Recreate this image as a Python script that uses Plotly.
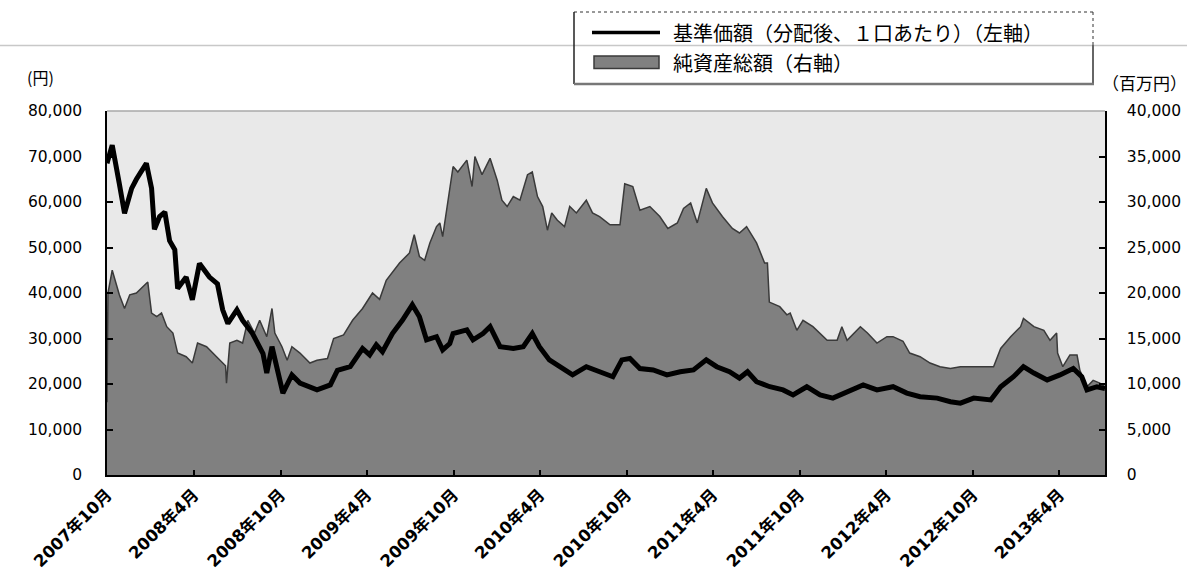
import plotly.graph_objects as go

# ---------------- data ----------------
nav_dates = [
    "2007-10-01", "2007-10-12", "2007-10-27", "2007-11-07", "2007-11-22", "2007-12-02",
    "2007-12-23", "2008-01-03", "2008-01-09", "2008-01-20", "2008-01-31", "2008-02-10",
    "2008-02-21", "2008-02-27", "2008-03-16", "2008-03-29", "2008-04-13", "2008-05-04",
    "2008-05-21", "2008-06-01", "2008-06-12", "2008-07-01", "2008-07-13", "2008-08-03",
    "2008-08-25", "2008-09-02", "2008-09-13", "2008-09-23", "2008-10-06", "2008-10-25",
    "2008-11-11", "2008-12-17", "2009-01-14", "2009-01-29", "2009-02-25", "2009-03-23",
    "2009-04-07", "2009-04-21", "2009-05-04", "2009-05-25", "2009-06-15", "2009-07-06",
    "2009-07-21", "2009-08-05", "2009-08-26", "2009-09-08", "2009-09-23", "2009-09-30",
    "2009-10-29", "2009-11-11", "2009-12-02", "2009-12-17", "2010-01-07", "2010-02-04",
    "2010-02-25", "2010-03-16", "2010-03-31", "2010-04-21", "2010-05-12", "2010-06-09",
    "2010-07-08", "2010-08-05", "2010-09-02", "2010-09-21", "2010-10-08", "2010-10-29",
    "2010-11-26", "2010-12-25", "2011-01-22", "2011-02-19", "2011-03-18", "2011-04-09",
    "2011-05-06", "2011-05-27", "2011-06-13", "2011-07-02", "2011-07-30", "2011-08-27",
    "2011-09-07", "2011-09-17", "2011-10-16", "2011-11-13", "2011-12-10", "2012-01-09",
    "2012-02-12", "2012-03-12", "2012-04-15", "2012-05-14", "2012-06-11", "2012-07-17",
    "2012-08-14", "2012-09-04", "2012-10-02", "2012-11-07", "2012-11-28", "2012-12-25",
    "2013-01-15", "2013-02-06", "2013-03-06", "2013-04-02", "2013-04-30", "2013-05-18",
    "2013-05-29", "2013-06-19", "2013-07-06",
]
nav_values = [
    68500, 72500, 64000, 57500, 63000, 65000,
    68500, 63000, 54000, 56800, 57800, 51500,
    49500, 41000, 43500, 38500, 46500, 43500,
    42000, 36300, 33300, 36300, 34000, 31100,
    26700, 22400, 28200, 23800, 18000, 22000,
    20200, 18700, 19800, 23000, 23800, 27800,
    26400, 28600, 27100, 31100, 34000, 37400,
    34800, 29700, 30400, 27500, 28900, 31100,
    31900, 29700, 31100, 32600, 28200, 27800,
    28200, 31100, 28200, 25300, 23800, 22000,
    23800, 22700, 21600, 25300, 25600, 23400,
    23100, 22000, 22700, 23100, 25300, 23800,
    22700, 21300, 22700, 20500, 19400, 18700,
    18000, 17600, 19400, 17600, 16900, 18300,
    19800, 18700, 19400, 18000, 17200, 16900,
    16100, 15800, 16900, 16500, 19400, 21600,
    23800, 22400, 20900, 22000, 23400, 21600,
    18700, 19400, 19000,
]

asset_dates = [
    "2007-10-01", "2007-10-03", "2007-10-12", "2007-10-27", "2007-11-07", "2007-11-18",
    "2007-12-02", "2007-12-15", "2007-12-26", "2008-01-03", "2008-01-14", "2008-01-24",
    "2008-02-04", "2008-02-17", "2008-02-27", "2008-03-16", "2008-03-29", "2008-04-09",
    "2008-04-28", "2008-05-19", "2008-06-07", "2008-06-09", "2008-06-16", "2008-07-01",
    "2008-07-13", "2008-07-24", "2008-08-07", "2008-08-18", "2008-09-02", "2008-09-13",
    "2008-09-19", "2008-10-04", "2008-10-15", "2008-10-25", "2008-11-11", "2008-12-02",
    "2008-12-17", "2009-01-08", "2009-01-21", "2009-02-11", "2009-03-02", "2009-03-23",
    "2009-04-13", "2009-04-28", "2009-05-12", "2009-06-09", "2009-06-30", "2009-07-10",
    "2009-07-21", "2009-08-01", "2009-08-12", "2009-08-26", "2009-09-02", "2009-09-08",
    "2009-09-19", "2009-09-30", "2009-10-10", "2009-10-29", "2009-11-09", "2009-11-15",
    "2009-11-30", "2009-12-17", "2010-01-01", "2010-01-11", "2010-01-22", "2010-02-04",
    "2010-02-18", "2010-03-06", "2010-03-16", "2010-03-27", "2010-04-07", "2010-04-17",
    "2010-04-26", "2010-05-08", "2010-05-23", "2010-06-03", "2010-06-17", "2010-07-08",
    "2010-07-21", "2010-08-05", "2010-08-27", "2010-09-17", "2010-09-27", "2010-10-14",
    "2010-10-29", "2010-11-19", "2010-12-10", "2010-12-27", "2011-01-16", "2011-01-29",
    "2011-02-13", "2011-02-27", "2011-03-18", "2011-03-31", "2011-04-21", "2011-05-12",
    "2011-05-27", "2011-06-11", "2011-07-02", "2011-07-19", "2011-07-25", "2011-07-29",
    "2011-08-20", "2011-09-04", "2011-09-11", "2011-09-25", "2011-10-08", "2011-10-29",
    "2011-11-28", "2011-12-19", "2011-12-29", "2012-01-09", "2012-02-06", "2012-02-21",
    "2012-03-12", "2012-04-02", "2012-04-15", "2012-05-06", "2012-05-20", "2012-06-11",
    "2012-07-02", "2012-07-23", "2012-08-14", "2012-09-04", "2012-10-16", "2012-11-13",
    "2012-11-28", "2012-12-19", "2013-01-09", "2013-01-15", "2013-02-06", "2013-02-27",
    "2013-03-12", "2013-03-26", "2013-03-28", "2013-04-08", "2013-04-23", "2013-05-08",
    "2013-05-14", "2013-05-29", "2013-06-11", "2013-06-25", "2013-07-06",
]
asset_values = [
    8000, 20000, 22500, 19800, 18300, 19800,
    20000, 20700, 21200, 17800, 17400, 17800,
    16300, 15600, 13400, 13000, 12300, 14500,
    14100, 13000, 12000, 10100, 14500, 14800,
    14500, 17000, 15600, 17000, 15200, 18300,
    15600, 14100, 12600, 14100, 13400, 12300,
    12600, 12800, 15000, 15400, 17000, 18300,
    20000, 19300, 21400, 23300, 24400, 26400,
    24000, 23600, 25500, 27300, 27700, 26200,
    30200, 33900, 33300, 34600, 31700, 35000,
    33000, 34800, 32400, 30200, 29500, 30600,
    30200, 33000, 33300, 30600, 29500, 26900,
    28800, 28000, 27300, 29500, 28800, 30200,
    28800, 28400, 27500, 27500, 32000, 31700,
    29100, 29500, 28400, 27100, 27700, 29300,
    29900, 27700, 31500, 29900, 28400, 27100,
    26600, 27300, 25500, 23300, 23300, 19000,
    18500, 17600, 17800, 15900, 17000, 16300,
    14800, 14800, 16300, 14800, 16300, 15600,
    14500, 15200, 15200, 14700, 13400, 13000,
    12300, 11900, 11700, 11900, 11900, 11900,
    13900, 15200, 16300, 17200, 16300, 15900,
    14800, 15600, 13400, 11900, 13200, 13200,
    11500, 9700, 10400, 10100, 9700,
]

tick_dates = ["2007-10-01", "2008-04-01", "2008-10-01", "2009-04-01", "2009-10-01",
              "2010-04-01", "2010-10-01", "2011-04-01", "2011-10-01", "2012-04-01",
              "2012-10-01", "2013-04-01"]
tick_labels = ["2007年10月", "2008年4月", "2008年10月", "2009年4月", "2009年10月",
               "2010年4月", "2010年10月", "2011年4月", "2011年10月", "2012年4月",
               "2012年10月", "2013年4月"]
left_ticks = [0, 10000, 20000, 30000, 40000, 50000, 60000, 70000, 80000]
right_ticks = [0, 5000, 10000, 15000, 20000, 25000, 30000, 35000, 40000]
x_range = ["2007-10-01", "2013-07-06"]

nav_name = "基準価額（分配後、１口あたり）（左軸）"
asset_name = "純資産総額（右軸）"

# ---------------- layout helpers (decoration only) ----------------
W, H = 1187, 587
L, R, T, B = 107, 1105, 111, 475


def fx(px):
    return (px - L) / (R - L)


def fy(py):
    return (B - py) / (B - T)


num_font = dict(family="DejaVu Sans, Noto Sans CJK JP", size=15.5, color="black")
jp_font = dict(family="Noto Sans CJK JP", size=20, color="black")

fig = go.Figure()
fig.add_trace(go.Scatter(
    x=asset_dates, y=asset_values, yaxis="y", mode="lines", fill="tozeroy",
    fillcolor="#808080", line=dict(color="#3a3a3a", width=1.5),
    name=asset_name, showlegend=False, hoverinfo="x+y",
))
fig.add_trace(go.Scatter(
    x=nav_dates, y=nav_values, yaxis="y2", mode="lines",
    line=dict(color="black", width=5),
    name=nav_name, showlegend=False, hoverinfo="x+y",
))

axis_common = dict(showgrid=False, zeroline=False, showline=True, linecolor="black",
                   linewidth=1.5, ticks="inside", tickwidth=1.5, tickcolor="black",
                   automargin=False)

fig.update_layout(
    width=W, height=H,
    margin=dict(l=L, r=W - R, t=T, b=H - B, autoexpand=False),
    paper_bgcolor="white", plot_bgcolor="#e9e9e9",
    xaxis=dict(type="date", range=x_range, tickvals=tick_dates, ticktext=tick_labels,
               tickangle=-45, ticklen=5, ticklabelstandoff=2,
               tickfont=dict(family="DejaVu Sans, Noto Sans CJK JP", size=16.5,
                             color="black", weight="bold"),
               **axis_common),
    yaxis=dict(side="right", range=[0, 40000], tickvals=right_ticks, tickformat=",d",
               tickfont=num_font, ticklen=6, ticklabelstandoff=17, **axis_common),
    yaxis2=dict(side="left", overlaying="y", anchor="x", range=[0, 80000],
                tickvals=left_ticks, tickformat=",d", tickfont=num_font,
                ticklen=6, ticklabelstandoff=20, **axis_common),
    showlegend=False,
)

shapes = []
# top border of plot (light grey)
shapes.append(dict(type="line", xref="paper", yref="paper", x0=0, x1=1, y0=1, y1=1,
                   line=dict(color="#a8a8a8", width=1.5)))
# full-width separator line behind legend
shapes.append(dict(type="line", xref="paper", yref="paper", x0=fx(0), x1=fx(W),
                   y0=fy(45.5), y1=fy(45.5), line=dict(color="#c8c8c8", width=1.5)))
# legend box borders
lx0, lx1, ly0, ly1 = 574, 1093, 12, 84
shapes.append(dict(type="line", xref="paper", yref="paper", x0=fx(lx0), x1=fx(lx1),
                   y0=fy(ly0), y1=fy(ly0), line=dict(color="#333333", width=1, dash="dot")))
shapes.append(dict(type="line", xref="paper", yref="paper", x0=fx(lx1), x1=fx(lx1),
                   y0=fy(ly0), y1=fy(45), line=dict(color="#333333", width=1, dash="dot")))
shapes.append(dict(type="line", xref="paper", yref="paper", x0=fx(lx1), x1=fx(lx1),
                   y0=fy(45), y1=fy(ly1), line=dict(color="#666666", width=2)))
shapes.append(dict(type="line", xref="paper", yref="paper", x0=fx(lx0), x1=fx(lx0),
                   y0=fy(ly0), y1=fy(ly1), line=dict(color="#222222", width=1.5)))
shapes.append(dict(type="line", xref="paper", yref="paper", x0=fx(lx0), x1=fx(lx1 + 1),
                   y0=fy(ly1), y1=fy(ly1), line=dict(color="#777777", width=2.5)))
# legend symbols
shapes.append(dict(type="line", xref="paper", yref="paper", x0=fx(592), x1=fx(660),
                   y0=fy(32.5), y1=fy(32.5), line=dict(color="black", width=3.5)))
shapes.append(dict(type="rect", xref="paper", yref="paper", x0=fx(594), x1=fx(659),
                   y0=fy(56), y1=fy(68.5), fillcolor="#808080",
                   line=dict(color="#3a3a3a", width=1.5)))
fig.update_layout(shapes=shapes)

annotations = [
    dict(text=nav_name, x=fx(671), y=fy(32.5), xanchor="left", yanchor="middle",
         font=jp_font),
    dict(text=asset_name, x=fx(671), y=fy(62.5), xanchor="left", yanchor="middle",
         font=jp_font),
    dict(text="(円)", x=fx(40), y=fy(77), xanchor="center", yanchor="middle",
         font=dict(family="Noto Sans CJK JP", size=16, color="black")),
    dict(text="（百万円）", x=fx(1144), y=fy(82), xanchor="center", yanchor="middle",
         font=dict(family="Noto Sans CJK JP", size=17, color="black")),
]
for a in annotations:
    a.update(xref="paper", yref="paper", showarrow=False)
fig.update_layout(annotations=annotations)

fig.write_html("out.html", config={"displayModeBar": False},
               post_script="document.body.style.margin='0';")
